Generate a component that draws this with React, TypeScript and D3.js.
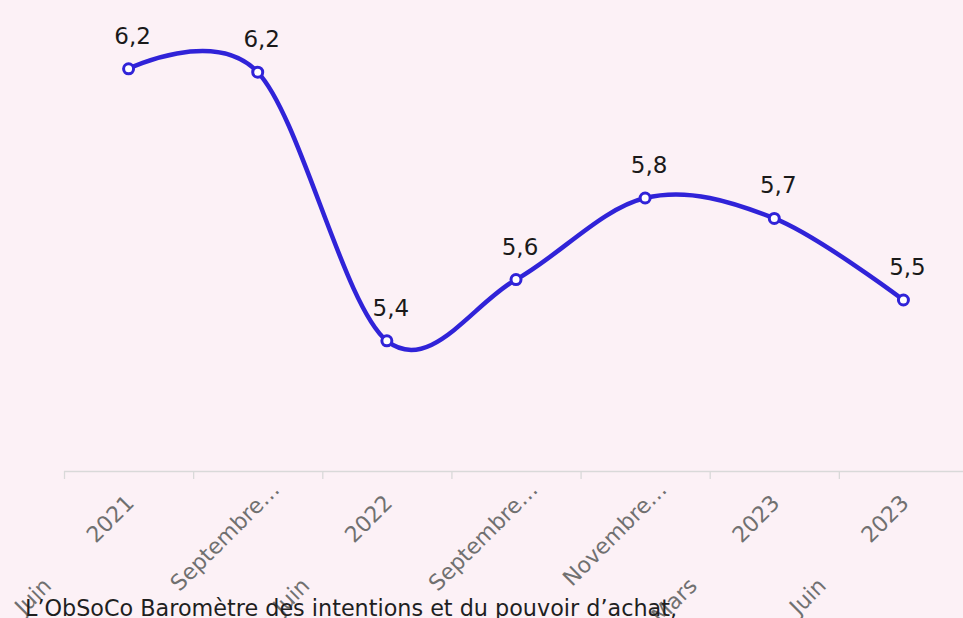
import React from "react";
import * as d3 from "d3";

// ---- data ----
const categories: string[] = [
  "Juin 2021",
  "Septembre 2021",
  "Juin 2022",
  "Septembre 2022",
  "Novembre 2022",
  "Mars 2023",
  "Juin 2023",
];
const values: number[] = [6.18, 6.17, 5.38, 5.56, 5.8, 5.74, 5.5];
const yDomain: [number, number] = [5, 6.3];
const footerText = "L’ObSoCo Baromètre des intentions et du pouvoir d’achat,";

// ---- layout / style ----
const W = 963;
const H = 618;
const axisY = 471;
const plotLeft = 64;
const plotRight = 968;
const plotTop = 28;
const BG = "#fcf1f6";
const LINE = "#3023d8";
const FONT = "'DejaVu Sans', sans-serif";
const TICK_COLOR = "#707070";

const fmt = (v: number) => d3.format(".1f")(v).replace(".", ",");

export default function App() {
  const x = d3.scaleBand<string>().domain(categories).range([plotLeft, plotRight]);
  const y = d3.scaleLinear().domain(yDomain).range([axisY - 1, plotTop]);
  const cx = (c: string) => (x(c) as number) + x.bandwidth() / 2;

  const pts: [number, number][] = categories.map((c, i) => [cx(c), y(values[i])]);
  const line = d3
    .line<[number, number]>()
    .x((d) => d[0])
    .y((d) => d[1])
    .curve(d3.curveCardinal.tension(0));

  const tickXs = categories.map((c) => x(c) as number);

  return (
    <div style={{ position: "absolute", left: 0, top: 0, width: W, height: H }}>
      <svg width={W} height={H} style={{ display: "block" }}>
        <rect x={0} y={0} width={W} height={H} fill={BG} />

        {/* x axis */}
        <line x1={plotLeft} x2={W} y1={axisY + 0.5} y2={axisY + 0.5} stroke="#d9d9d9" strokeWidth={1.3} />
        {tickXs.map((tx, i) => (
          <line key={"t" + i} x1={tx + 0.5} x2={tx + 0.5} y1={axisY} y2={axisY + 8} stroke="#d9d9d9" strokeWidth={1.3} />
        ))}

        {/* category labels */}
        {categories.map((c, i) => {
          const ex = cx(c) + 23;
          const ey = axisY + 20;
          const words = c.split(" ");
          const long = c.length > 10;
          return (
            <g key={"l" + i} transform={`translate(${ex},${ey}) rotate(-45)`}>
              {long ? (
                <text x={0} y={0} textAnchor="end" fontFamily={FONT} fontSize={22} fill={TICK_COLOR}>
                  {words[0] + "…"}
                </text>
              ) : (
                <>
                  <text x={-21} y={-2} textAnchor="end" fontFamily={FONT} fontSize={22} fill={TICK_COLOR}>
                    {words[1]}
                  </text>
                  <text x={-138} y={-2} textAnchor="end" fontFamily={FONT} fontSize={22} fill={TICK_COLOR}>
                    {words[0]}
                  </text>
                </>
              )}
            </g>
          );
        })}

        {/* line */}
        <path d={line(pts) || ""} fill="none" stroke={LINE} strokeWidth={4.5} strokeLinecap="round" />

        {/* markers */}
        {pts.map((p, i) => (
          <circle key={"c" + i} cx={p[0]} cy={p[1]} r={5} fill="#ffffff" stroke={LINE} strokeWidth={3} />
        ))}

        {/* data labels */}
        {pts.map((p, i) => (
          <text
            key={"d" + i}
            x={p[0] + 4}
            y={p[1] - 25}
            textAnchor="middle"
            fontFamily={FONT}
            fontSize={23}
            fill="#1a1a1a"
          >
            {fmt(values[i])}
          </text>
        ))}

        {/* footer */}
        <text x={25} y={616} fontFamily={FONT} fontSize={22.3} fill="#1f1f1f">
          {footerText}
        </text>
      </svg>
    </div>
  );
}
